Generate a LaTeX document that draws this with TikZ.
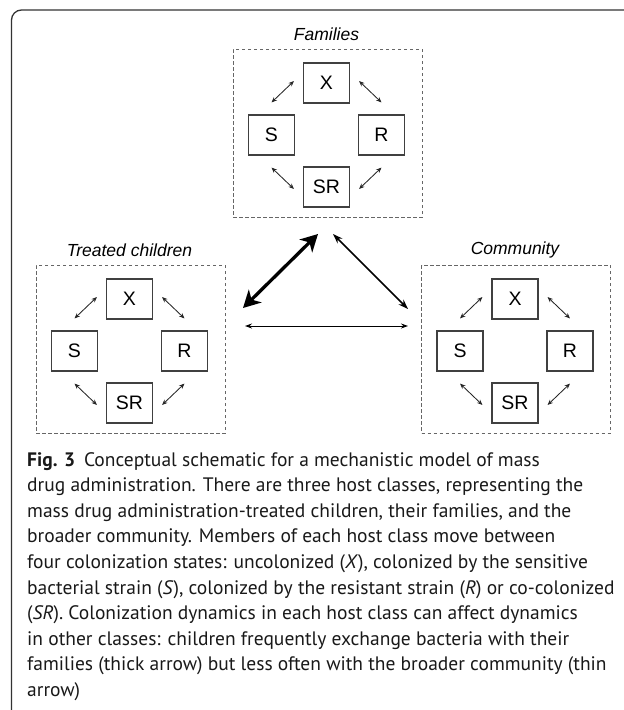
\documentclass[tikz,border=0pt]{standalone}
\usepackage{fontspec}
\setmainfont{PT Sans}
\newfontfamily\diagfont{Liberation Sans}
\usetikzlibrary{arrows.meta}

\tikzset{
  colstate/.style={draw=black!75, line width=1.1pt, minimum width=46pt, minimum height=40pt, inner sep=0pt, font=\diagfont\fontsize{19.5}{19.5}\selectfont},
  hostbox/.style={draw=black!60, dash pattern=on 3.5pt off 2.5pt, line width=0.9pt, minimum width=189pt, minimum height=168pt, inner sep=0pt},
  hostlabel/.style={font=\diagfont\itshape\fontsize{17.5}{17.5}\selectfont},
  flow/.style={{Stealth[length=5.5pt,width=4.5pt]}-{Stealth[length=5.5pt,width=4.5pt]}, line width=0.85pt, black!85},
}

\begin{document}
\begin{tikzpicture}[x=1pt,y=-1pt]
\useasboundingbox (0,0) rectangle (624,710);
\draw [black!80, line width=1.3pt, rounded corners=10pt] (11.5,720) -- (11.5,10) -- (640,10);

% the three host classes
\foreach \cl/\cx/\cy/\lab in {fam/326.5/135/Families, kid/129.5/351/Treated children, com/515/351/Community} {
  \node[hostbox] (\cl-box) at (\cx+1,\cy-2) {};
  \node[hostlabel] (\cl-lab) at (\cx,\cy-101) {\lab};
  \node[colstate] (\cl-X) at (\cx,\cy-52) {X};
  \node[colstate] (\cl-S) at (\cx-55,\cy) {S};
  \node[colstate] (\cl-R) at (\cx+55,\cy) {R};
  \node[colstate] (\cl-SR) at (\cx,\cy+52) {SR};
  \draw[flow] ([xshift=-9pt,yshift=2pt]\cl-X.west) -- ([yshift=12pt]\cl-S.north);
  \draw[flow] ([xshift=9pt,yshift=2pt]\cl-X.east) -- ([yshift=12pt]\cl-R.north);
  \draw[flow] ([yshift=-12pt]\cl-S.south) -- ([xshift=-9pt,yshift=-2pt]\cl-SR.west);
  \draw[flow] ([xshift=9pt,yshift=-2pt]\cl-SR.east) -- ([yshift=-12pt]\cl-R.south);
}

% exchange between classes
\coordinate (kidT) at (243,308);
\coordinate (famL) at (318,234);
\coordinate (famR) at (333,234);
\coordinate (comT) at (408,309);
\coordinate (kidR) at (245,326);
\coordinate (comL) at (408,326);
\draw [{Stealth[length=17pt,width=18pt,inset=5pt]}-{Stealth[length=17pt,width=18pt,inset=5pt]}, line width=3.3pt] (kidT) -- (famL);
\draw [{Stealth[length=10pt,width=7pt]}-{Stealth[length=10pt,width=7pt]}, line width=1.5pt] (famR) -- (comT);
\draw [{Stealth[length=7pt,width=5pt]}-{Stealth[length=7pt,width=5pt]}, line width=1pt] (kidR) -- (comL);

\node[anchor=north west, align=left, inner sep=0pt, text=black!90, font=\fontsize{19.5}{25.6}\selectfont] (cap) at (27,452) {%
\textbf{Fig. 3}\hspace{0.45em}Conceptual schematic for a mechanistic model of mass\\
drug administration. There are three host classes, representing the\\
mass drug administration-treated children, their families, and the\\
broader community. Members of each host class move between\\
four colonization states: uncolonized (\textit{X}), colonized by the sensitive\\
bacterial strain (\textit{S}), colonized by the resistant strain (\textit{R}) or co-colonized\\
(\textit{SR}). Colonization dynamics in each host class can affect dynamics\\
in other classes: children frequently exchange bacteria with their\\
families (thick arrow) but less often with the broader community (thin\\
arrow)};
\end{tikzpicture}
\end{document}
